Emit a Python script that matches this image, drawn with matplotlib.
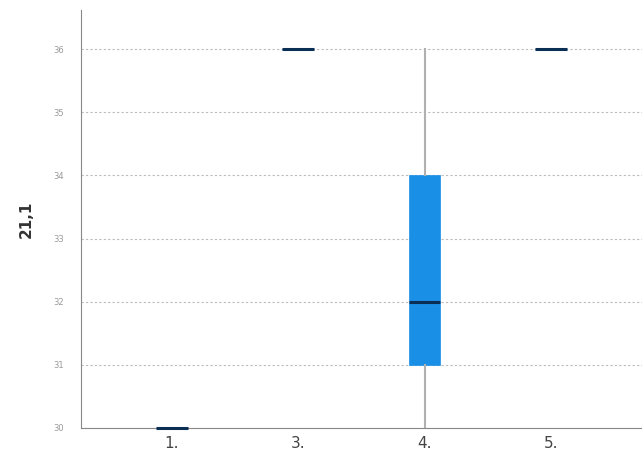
import matplotlib.pyplot as plt

groups = ["1.", "3.", "4.", "5."]
mins = [30, 36, 30, 36]
q1s = [30, 36, 31, 36]
medians = [30, 36, 32, 36]
q3s = [30, 36, 34, 36]
maxs = [30, 36, 36, 36]
yticks = [30, 31, 32, 33, 34, 35, 36]

fig = plt.figure(figsize=(6.42, 4.61), dpi=100)
ax = fig.add_axes([0.126, 0.072, 0.874, 0.906])

stats = []
for i in range(len(groups)):
    stats.append({"label": groups[i], "whislo": mins[i], "q1": q1s[i], "med": medians[i],
                  "q3": q3s[i], "whishi": maxs[i], "fliers": []})

bp = ax.bxp(stats, positions=range(len(groups)), widths=0.25, patch_artist=True, showcaps=False,
            boxprops=dict(facecolor="#1a8fe6", edgecolor="#1a8fe6", linewidth=0.5),
            medianprops=dict(color="#0b2e55", linewidth=2.2),
            whiskerprops=dict(color="#b0b0b0", linewidth=1.5), zorder=3)
for m in bp["medians"]:
    m.set_clip_on(False)

ax.set_xlim(-0.72, 3.72)
ax.set_ylim(30, 36.62)
ax.set_yticks(yticks)
ax.set_yticklabels([str(t) for t in yticks], fontsize=6, color="#999999")
ax.set_xticks(range(len(groups)))
ax.set_xticklabels(groups, fontsize=11, color="#444444")
ax.tick_params(axis="x", length=0, pad=6)
ax.tick_params(axis="y", length=0, pad=12)
ax.yaxis.grid(True, linestyle=(0, (2, 2)), color="#bbbbbb", linewidth=0.8)
ax.set_axisbelow(True)
ax.spines["top"].set_visible(False)
ax.spines["right"].set_visible(False)
ax.spines["left"].set_color("#888888")
ax.spines["bottom"].set_color("#888888")
ax.set_ylabel("21,1", fontsize=11, fontweight="bold", color="#333333", labelpad=14)

fig.savefig("out.png", dpi=100)
